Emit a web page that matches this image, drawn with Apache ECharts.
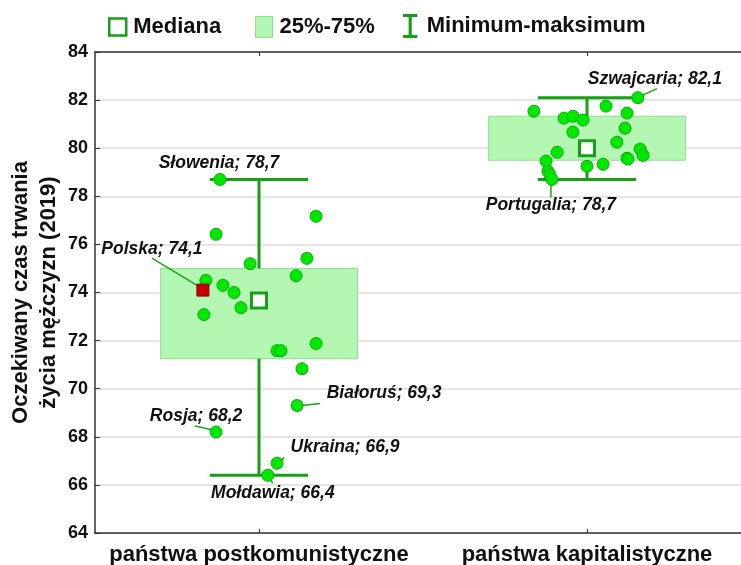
<!DOCTYPE html>
<html>
<head>
<meta charset="utf-8">
<script src="https://cdn.jsdelivr.net/npm/echarts@6/dist/echarts.min.js"></script>
<style>html,body{margin:0;padding:0;background:#fff}#c{width:741px;height:565px}</style>
</head>
<body>
<div id="c"></div>
<script>
// ---- DATA ----
var categories = ['państwa postkomunistyczne', 'państwa kapitalistyczne'];
var yTicks = [64, 66, 68, 70, 72, 74, 76, 78, 80, 82, 84];
var legendNames = ['Mediana', '25%-75%', 'Minimum-maksimum'];
var medians = [73.67, 80.0];
var q25 = [71.25, 79.5];
var q75 = [75.0, 81.33];
var minima = [66.4, 78.7];
var maxima = [78.7, 82.1];

// group 1 (post-communist) countries: values and horizontal jitter (fraction of category width)
var g1Values = [78.7, 77.17, 76.42, 75.2, 75.42, 74.5, 74.7, 74.3, 74.0, 73.37, 73.08, 71.88, 71.58, 71.58, 70.83, 69.3, 68.2, 66.9, 66.4];
var g1Jitter = [-0.119, 0.174, -0.131, -0.027, 0.146, -0.162, 0.113, -0.110, -0.076, -0.055, -0.168, 0.174, 0.055, 0.067, 0.131, 0.116, -0.131, 0.055, 0.027];
// Poland highlighted
var polandValue = 74.1;
var polandJitter = -0.171;
// group 2 (capitalist) countries
var g2Values = [82.1, 81.54, 81.75, 81.25, 81.33, 81.17, 81.46, 80.83, 80.67, 80.25, 79.83, 79.96, 79.7, 79.58, 79.55, 79.33, 79.25, 79.46, 79.04, 78.9, 78.7];
var g2Jitter = [0.155, -0.162, 0.058, -0.070, -0.043, -0.012, 0.122, 0.116, -0.043, 0.091, -0.091, 0.162, 0.171, 0.122, 0.125, 0.049, 0.0, -0.125, -0.119, -0.113, -0.107];

// annotated countries: name, group, value, jitter
var annNames = ['Słowenia', 'Polska', 'Białoruś', 'Rosja', 'Ukraina', 'Mołdawia', 'Szwajcaria', 'Portugalia'];
var annGroups = [0, 0, 0, 0, 0, 0, 1, 1];
var annValues = [78.7, 74.1, 69.3, 68.2, 66.9, 66.4, 82.1, 78.7];
var annJitter = [-0.119, -0.171, 0.116, -0.131, 0.055, 0.027, 0.155, -0.107];

// ---- LAYOUT / STYLE (pixel offsets relative to the annotated point) ----
var annLayout = [
  {tx: -1, ty: -16, line: null},
  {tx: -51, ty: -41, line: [-51, -32, -3, -3]},
  {tx: 87, ty: -12, line: [5, 0, 23, -2]},
  {tx: -20, ty: -16, line: [-21, -6, -3, -2]},
  {tx: 68, ty: -16, line: [5, -3, 7, -6]},
  {tx: 5, ty: 18, line: [0, 0, 5, 8]},
  {tx: 17, ty: -19, line: [4, -2, 19, -9]},
  {tx: -1, ty: 26, line: [-1, 2, -1, 18]}
];

var GREEN_DARK = '#17a017';
var POINT_FILL = '#00e800';
var POINT_BORDER = '#00b400';
var BOX_FILL = '#b3f7b3';
var BOX_BORDER = '#8fdf8f';
var FONT = 'Liberation Sans, Arial, sans-serif';

function fmt(v) { return String(v).replace('.', ','); }

var pts1 = g1Values.map(function (v, i) { return [0.5 + g1Jitter[i], v]; });
var pts2 = g2Values.map(function (v, i) { return [1.5 + g2Jitter[i], v]; });
var boxData = categories.map(function (c, i) { return [i + 0.5, q25[i], q75[i], minima[i], maxima[i]]; });
var medData = medians.map(function (m, i) { return [i + 0.5, m]; });
var annData = annNames.map(function (n, i) { return [annGroups[i] + 0.5 + annJitter[i], annValues[i], i]; });

var legendText = {fontSize: 22, fontWeight: 'bold', color: '#111', fontFamily: FONT, lineHeight: 24, padding: [0, 0, 0, 2]};

var chart = echarts.init(document.getElementById('c'), null, {renderer: 'canvas'});
var option = {
  animation: false,
  backgroundColor: '#fff',
  textStyle: {fontFamily: FONT},
  legend: [
    {
      left: 108, top: 15, padding: 0, itemWidth: 17, itemHeight: 17, textStyle: legendText,
      data: [{name: legendNames[0], icon: 'rect', itemStyle: {color: '#fff', borderColor: GREEN_DARK, borderWidth: 2.5}}]
    },
    {
      left: 255, top: 15, padding: 0, itemWidth: 17, itemHeight: 21, textStyle: legendText,
      data: [{name: legendNames[1], icon: 'rect', itemStyle: {color: BOX_FILL, borderColor: BOX_BORDER, borderWidth: 1}}]
    },
    {
      left: 403, top: 14, padding: 0, itemWidth: 19, itemHeight: 24, textStyle: legendText,
      data: [{name: legendNames[2], icon: 'path://M0,0 L12,0 L12,2.5 L7.3,2.5 L7.3,17.5 L12,17.5 L12,20 L0,20 L0,17.5 L4.7,17.5 L4.7,2.5 L0,2.5 Z', itemStyle: {color: GREEN_DARK}}]
    }
  ],
  grid: {left: 95, right: -10, top: 52, bottom: 32, containLabel: false, outerBoundsMode: 'none'},
  xAxis: [
    {
      type: 'category', data: categories, position: 'bottom', boundaryGap: true,
      axisLine: {lineStyle: {color: '#333', width: 1.5}},
      axisTick: {show: true, inside: true, alignWithLabel: true, length: 4, lineStyle: {color: '#333'}},
      axisLabel: {fontSize: 22, fontWeight: 'bold', color: '#111', margin: 11, interval: 0, fontFamily: FONT},
      splitLine: {show: false}
    },
    {
      type: 'category', data: categories, position: 'top', boundaryGap: true,
      axisLine: {lineStyle: {color: '#333', width: 1.5}},
      axisTick: {show: true, inside: true, alignWithLabel: true, length: 4, lineStyle: {color: '#333'}},
      axisLabel: {show: false},
      splitLine: {show: false}
    },
    {type: 'value', min: 0, max: 2, show: false}
  ],
  yAxis: {
    type: 'value', min: yTicks[0], max: yTicks[yTicks.length - 1], interval: 2,
    name: 'Oczekiwany czas trwania\nżycia mężczyzn (2019)',
    nameLocation: 'middle', nameGap: 32, nameRotate: 90, nameMoveOverlap: false,
    nameTextStyle: {fontSize: 22, fontWeight: 'bold', color: '#111', lineHeight: 28, fontFamily: FONT},
    axisLine: {show: true, lineStyle: {color: '#333', width: 1.5}},
    axisTick: {show: true, inside: true, length: 5, lineStyle: {color: '#333'}},
    axisLabel: {fontSize: 18, fontWeight: 'bold', color: '#111', margin: 7, fontFamily: FONT},
    splitLine: {show: true, lineStyle: {color: '#dcdcdc', width: 1.5}}
  },
  series: [
    {
      name: legendNames[1], type: 'custom', xAxisIndex: 2, z: 2,
      data: boxData,
      renderItem: function (params, api) {
        var x = api.value(0);
        var p1 = api.coord([x - 0.3, api.value(2)]);
        var p2 = api.coord([x + 0.3, api.value(1)]);
        return {
          type: 'rect',
          shape: {x: p1[0], y: p1[1], width: p2[0] - p1[0], height: p2[1] - p1[1]},
          style: {fill: BOX_FILL, stroke: BOX_BORDER, lineWidth: 1}
        };
      }
    },
    {
      name: legendNames[2], type: 'custom', xAxisIndex: 2, z: 3,
      data: boxData,
      renderItem: function (params, api) {
        var x = api.value(0);
        var lo = api.coord([x, api.value(1)]);
        var hi = api.coord([x, api.value(2)]);
        var mn = api.coord([x, api.value(3)]);
        var mx = api.coord([x, api.value(4)]);
        var capL = api.coord([x - 0.15, api.value(3)])[0];
        var capR = api.coord([x + 0.15, api.value(3)])[0];
        var st = {stroke: GREEN_DARK, lineWidth: 3};
        return {
          type: 'group',
          children: [
            {type: 'line', shape: {x1: hi[0], y1: hi[1], x2: mx[0], y2: mx[1]}, style: st},
            {type: 'line', shape: {x1: lo[0], y1: lo[1], x2: mn[0], y2: mn[1]}, style: st},
            {type: 'line', shape: {x1: capL, y1: mx[1], x2: capR, y2: mx[1]}, style: st},
            {type: 'line', shape: {x1: capL, y1: mn[1], x2: capR, y2: mn[1]}, style: st}
          ]
        };
      }
    },
    {
      name: 'annotations', type: 'custom', xAxisIndex: 2, z: 4, silent: true,
      data: annData,
      renderItem: function (params, api) {
        var i = api.value(2);
        var p = api.coord([api.value(0), api.value(1)]);
        var L = annLayout[i];
        var children = [{
          type: 'text',
          style: {
            text: annNames[i] + '; ' + fmt(annValues[i]),
            x: p[0] + L.tx, y: p[1] + L.ty,
            align: 'center', verticalAlign: 'middle',
            font: 'italic bold 17.5px ' + FONT, fill: '#111'
          }
        }];
        if (L.line) {
          children.push({
            type: 'line',
            shape: {x1: p[0] + L.line[0], y1: p[1] + L.line[1], x2: p[0] + L.line[2], y2: p[1] + L.line[3]},
            style: {stroke: '#1aa51a', lineWidth: 1.5}
          });
        }
        return {type: 'group', children: children};
      }
    },
    {
      name: 'kraje', type: 'scatter', xAxisIndex: 2, z: 5,
      data: pts1.concat(pts2),
      symbol: 'circle', symbolSize: 12,
      itemStyle: {color: POINT_FILL, borderColor: POINT_BORDER, borderWidth: 1, opacity: 1}
    },
    {
      name: 'Polska', type: 'scatter', xAxisIndex: 2, z: 6,
      data: [[0.5 + polandJitter, polandValue]],
      symbol: 'rect', symbolSize: 12,
      itemStyle: {color: '#c80000', borderColor: '#900000', borderWidth: 1, opacity: 1}
    },
    {
      name: legendNames[0], type: 'scatter', xAxisIndex: 2, z: 7,
      data: medData,
      symbol: 'rect', symbolSize: 15,
      itemStyle: {color: '#fff', borderColor: GREEN_DARK, borderWidth: 3, opacity: 1}
    }
  ]
};
chart.setOption(option);
</script>
</body>
</html>
